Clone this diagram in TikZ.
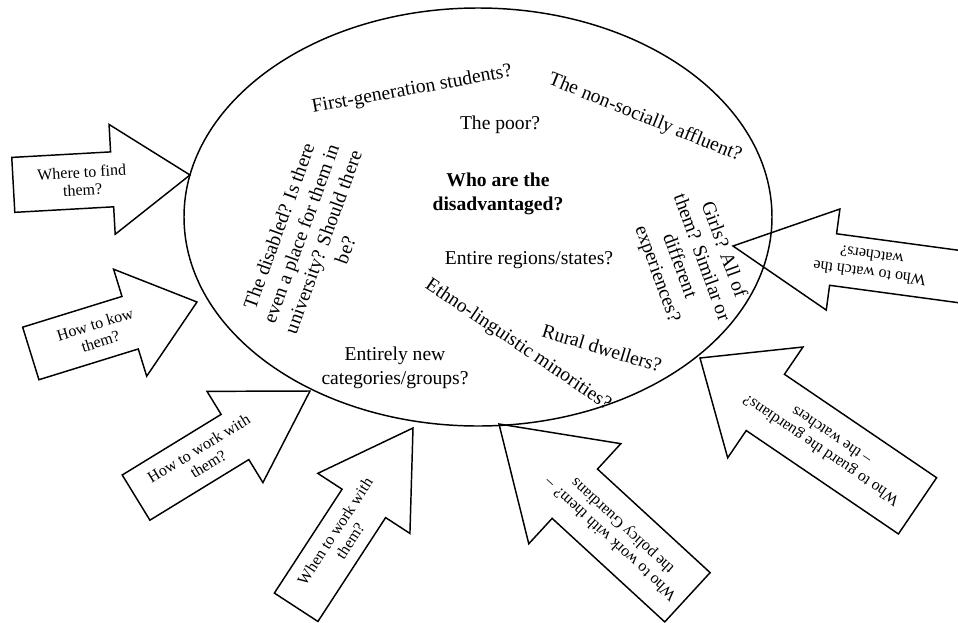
\documentclass[tikz,border=0pt]{standalone}
\usepackage{fontspec}
\setmainfont{Liberation Serif}
\tikzset{
  ring/.style={line width=1.1pt},
  pointerline/.style={line width=1.1pt, line join=miter},
  pointertext/.style={align=center, inner sep=0pt, font=\fontsize{12}{13.5}\selectfont},
  question/.style={align=center, inner sep=0pt, font=\fontsize{14.7}{17.6}\selectfont},
}
% block arrow: tip, angle, length, shaft half width, head half width, head length, text distance, name, text
\newcommand{\pointer}[9]{%
  \begin{scope}[shift={#1}, rotate=#2]
    \draw [pointerline] (0,0) -- (-#6,#5) -- (-#6,#4) -- (-#3,#4) -- (-#3,-#4) -- (-#6,-#4) -- (-#6,-#5) -- cycle;
    \node [pointertext, transform shape] (#8) at (-#7,0) {#9};
  \end{scope}}
\begin{document}
\begin{tikzpicture}[x=0.75pt, y=-0.75pt]
  \useasboundingbox (0,0) rectangle (958,622);
  \clip (0,0) rectangle (958,622);
  \draw [ring] (478,217) ellipse [x radius=294, y radius=209];
  % questions inside the ring
  \node [question, font=\fontsize{14.7}{17.6}\selectfont\bfseries] (who) at (498,194) {Who are the\\disadvantaged?};
  \node [question] (poor) at (500,125) {The poor?};
  \node [question, rotate=10.4] (firstgen) at (412,90) {First-generation students?};
  \node [question, rotate=-22] (affluent) at (645,118) {The non-socially affluent?};
  \node [question] (regions) at (529,260) {Entire regions/states?};
  \node [question, rotate=-34] (ethno) at (518,345) {Ethno-linguistic minorities?};
  \node [question, rotate=-17] (rural) at (602,348) {Rural dwellers?};
  \node [question] (newgroups) at (395,368) {Entirely new\\categories/groups?};
  \node [question, rotate=70] (disabled) at (312,238) {The disabled? Is there\\even a place for them in\\university? Should there\\be?};
  \node [question, rotate=-70] (girls) at (690,262) {Girls? All of\\them? Similar or\\different\\experiences?};
  % arrows pointing at the ring
  \pointer{(190,175)}{3.2}{177}{27.5}{55}{78}{108}{find}{Where to find\\them?}
  \pointer{(197,302)}{17.2}{174}{27.5}{56}{70}{104}{know}{How to kow\\them?}
  \pointer{(310,391)}{31.5}{204}{26.5}{53.5}{88}{125}{workhow}{How to work with\\them?}
  \pointer{(413,428)}{56.9}{214}{26}{55}{90}{129}{workwhen}{When to work with\\them?}
  \pointer{(499,424)}{137.4}{256}{33.5}{68}{103}{160}{policy}{Who to work with them? --\\the policy Guardians}
  \pointer{(700,358)}{145.8}{263}{34}{67}{79}{152}{guard}{Who to guard the guardians?\\-- the watchers}
  \pointer{(733,246)}{172.3}{280}{26}{51}{101}{139}{watch}{Who to watch the\\watchers?}
\end{tikzpicture}
\end{document}
